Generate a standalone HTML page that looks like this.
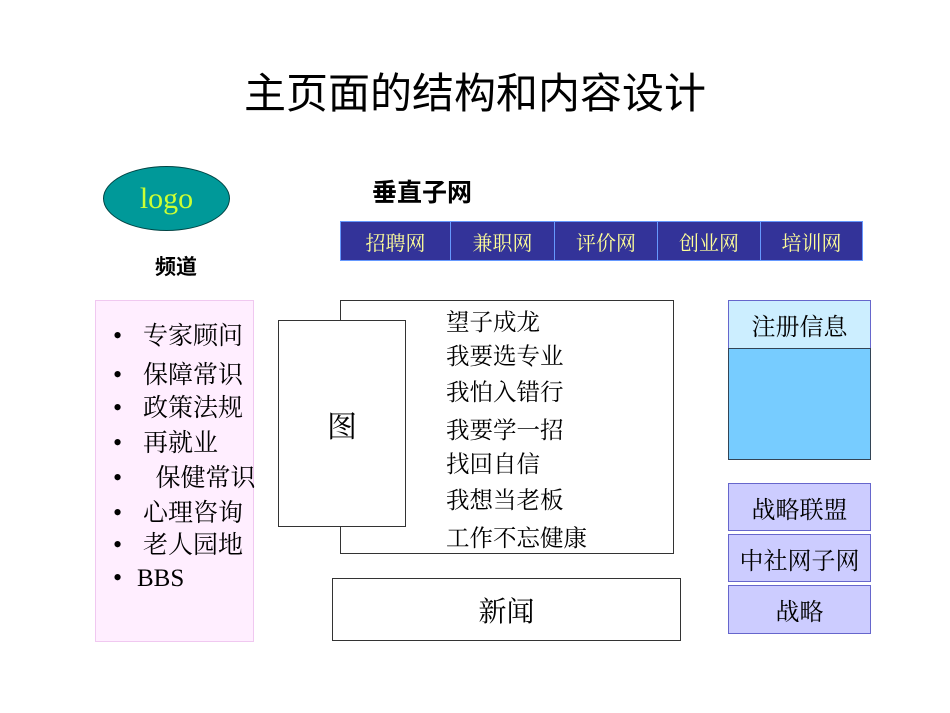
<!DOCTYPE html>
<html><head><meta charset="utf-8"><style>
body{margin:0;width:950px;height:713px;background:#fff;position:relative;overflow:hidden;font-family:"Liberation Serif","Noto Serif CJK SC",serif;}
div{position:absolute;box-sizing:border-box;}
.c{display:flex;align-items:center;justify-content:center;}
.sans{font-family:"Liberation Sans","Noto Sans CJK SC",sans-serif;}
.tab{top:0;height:38px;color:#ffff99;font-size:20px;border-right:1px solid #6699ff;}
.li{left:0;font-size:25px;line-height:30px;white-space:nowrap;}
.li b{display:inline-block;width:30px;font-weight:normal;font-size:26px;}
.rt{left:446px;font-size:23.5px;line-height:28px;white-space:nowrap;}
.pb{left:728px;width:143px;background:#ccccff;border:1px solid #6666cc;font-size:24px;}
</style></head><body>
<div class="sans c" style="left:0;top:64px;width:950px;height:52px;font-size:42px;">主页面的结构和内容设计</div>
<div class="c" style="left:103px;top:166px;width:127px;height:65px;border-radius:50%;background:#009999;border:1px solid #004444;color:#ccff33;font-size:30px;">logo</div>
<div class="sans c" style="left:146px;top:252px;width:60px;height:28px;font-size:21px;font-weight:bold;">频道</div>
<div class="sans" style="left:372px;top:173px;font-size:25px;font-weight:bold;">垂直子网</div>
<div style="left:340px;top:221px;width:523px;height:40px;background:#333399;border:1px solid #6699ff;">
<div class="tab c" style="left:0;width:110px;">招聘网</div>
<div class="tab c" style="left:110px;width:104px;">兼职网</div>
<div class="tab c" style="left:214px;width:103px;">评价网</div>
<div class="tab c" style="left:317px;width:103px;">创业网</div>
<div class="tab c" style="left:420px;width:101px;border-right:none;">培训网</div>
</div>
<div style="left:95px;top:300px;width:159px;height:342px;background:#ffeeff;border:1px solid #f0c8f0;"></div>
<div style="left:113px;top:0;">
<div class="li" style="top:321px;"><b>•</b>专家顾问</div>
<div class="li" style="top:360px;"><b>•</b>保障常识</div>
<div class="li" style="top:393px;"><b>•</b>政策法规</div>
<div class="li" style="top:428px;"><b>•</b>再就业</div>
<div class="li" style="top:463px;"><b>•</b>&nbsp;&nbsp;保健常识</div>
<div class="li" style="top:498px;"><b>•</b>心理咨询</div>
<div class="li" style="top:530px;"><b>•</b>老人园地</div>
<div class="li" style="top:563px;"><b style="width:24px">•</b>BBS</div>
</div>
<div style="left:340px;top:300px;width:334px;height:254px;border:1px solid #333;"></div>
<div class="c" style="left:278px;top:320px;width:128px;height:207px;border:1px solid #333;background:#fff;font-size:30px;">图</div>
<div class="rt" style="top:309px;">望子成龙</div>
<div class="rt" style="top:343px;">我要选专业</div>
<div class="rt" style="top:379px;">我怕入错行</div>
<div class="rt" style="top:417px;">我要学一招</div>
<div class="rt" style="top:451px;">找回自信</div>
<div class="rt" style="top:487px;">我想当老板</div>
<div class="rt" style="top:525px;">工作不忘健康</div>
<div class="c" style="left:332px;top:578px;width:349px;height:63px;border:1px solid #333;font-size:28px;">新闻</div>
<div class="c" style="left:728px;top:300px;width:143px;height:49px;background:#cceeff;border:1px solid #6666cc;border-bottom:1px solid #333;font-size:24px;">注册信息</div>
<div style="left:728px;top:348px;width:143px;height:112px;background:#77ccff;border:1px solid #334455;"></div>
<div class="pb c" style="top:483px;height:48px;">战略联盟</div>
<div class="pb c" style="top:534px;height:48px;">中社网子网</div>
<div class="pb c" style="top:585px;height:49px;">战略</div>
</body></html>
